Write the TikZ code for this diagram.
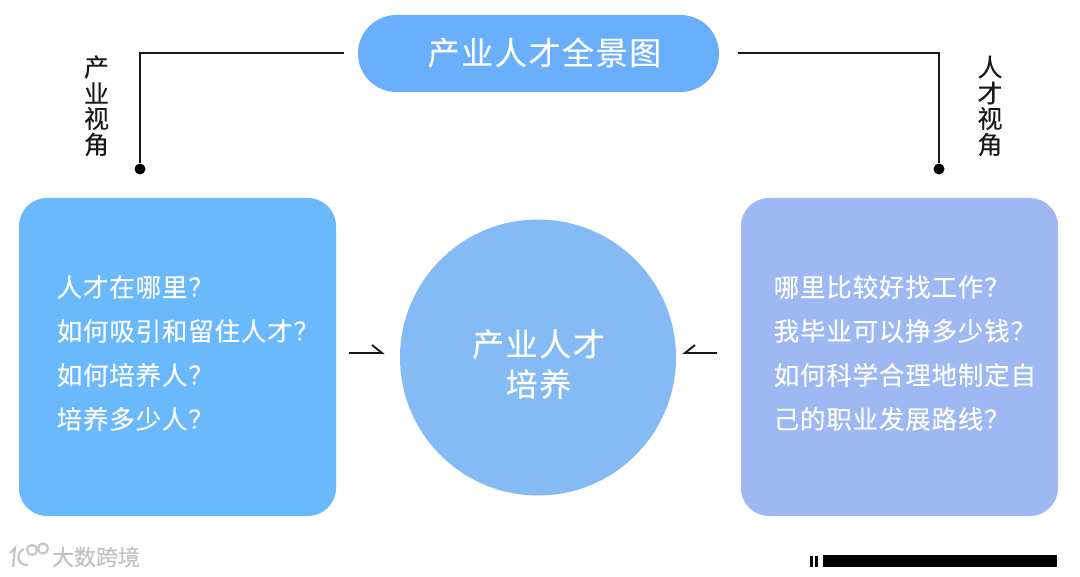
\documentclass[tikz,border=0pt]{standalone}
\usepackage{fontspec}
\newfontfamily\cjk{Noto Sans CJK SC}
\tikzset{
  x=1pt,y=-1pt,
  txt/.style={inner sep=0pt,anchor=west,text=white,font=\cjk\fontsize{25.5}{25.5}\selectfont\addfontfeature{LetterSpace=3.2,FakeBold=0.15}},
  vtxt/.style={inner sep=0pt,text=black!90,font=\cjk\fontsize{25}{25}\selectfont\addfontfeature{FakeBold=0.2}},
  bigtxt/.style={inner sep=0pt,text=white,font=\cjk\fontsize{32}{32}\selectfont\addfontfeature{LetterSpace=5,FakeBold=0.2}},
  conn/.style={draw=black!90,line width=2pt},
  thin conn/.style={draw=black!90,line width=1.9pt},
  wm/.style={inner sep=0pt,text=black!24,font=\cjk\fontsize{22}{22}\selectfont\addfontfeature{FakeBold=0.4}}
}
\definecolor{titleblue}{HTML}{69AFFC}
\definecolor{leftblue}{HTML}{69B9FC}
\definecolor{circblue}{HTML}{85BBF5}
\definecolor{rightblue}{HTML}{9DB8F2}
\begin{document}
\begin{tikzpicture}
\useasboundingbox (0,0) rectangle (1080,577);
\fill[white] (0,0) rectangle (1080,577);
% shapes
\node[draw=none,fill=titleblue,rounded corners=38.5pt,minimum width=361pt,minimum height=77pt,inner sep=0pt] (title) at (538.5,53.5) {};
\node[bigtxt] (titletxt) at (544.5,52.5) {产业人才全景图};
\node[fill=leftblue,rounded corners=28pt,minimum width=317pt,minimum height=318pt,inner sep=0pt] (leftbox) at (177.5,357) {};
\node[fill=rightblue,rounded corners=28pt,minimum width=317pt,minimum height=318pt,inner sep=0pt] (rightbox) at (899.5,357) {};
\node[circle,fill=circblue,minimum size=276pt,inner sep=0pt] (circ) at (538,357.5) {};
% circle text
\node[bigtxt] (c1) at (538.5,344) {产业人才};
\node[bigtxt] (c2) at (538.5,384) {培养};
% left text
\node[txt] (l1) at (56.5,287) {人才在哪里？};
\node[txt] (l2) at (56.5,331) {如何吸引和留住人才？};
\node[txt] (l3) at (56.5,375) {如何培养人？};
\node[txt] (l4) at (56.5,419) {培养多少人？};
% right text
\node[txt] (r1) at (773.5,287) {哪里比较好找工作？};
\node[txt] (r2) at (773.5,331) {我毕业可以挣多少钱？};
\node[txt] (r3) at (773.5,375) {如何科学合理地制定自};
\node[txt] (r4) at (773.5,419) {己的职业发展路线？};
% vertical labels
\node[vtxt] (a1) at (96.5,67) {产};
\node[vtxt] (a2) at (96.5,93) {业};
\node[vtxt] (a3) at (96.5,118.5) {视};
\node[vtxt] (a4) at (96.5,144.5) {角};
\node[vtxt] (b1) at (990,67) {人};
\node[vtxt] (b2) at (990,93) {才};
\node[vtxt] (b3) at (990,118.5) {视};
\node[vtxt] (b4) at (990,144.5) {角};
% connectors
\coordinate (ls) at (344,53);
\coordinate (rs) at (738,53);
\node[circle,fill=black,minimum size=11pt,inner sep=0pt] (ld) at (140,169) {};
\node[circle,fill=black,minimum size=11pt,inner sep=0pt] (rd) at (939,169) {};
\draw[conn] (ls) -| (ld);
\draw[conn] (rs) -| (rd);
% half arrows
\coordinate (la0) at (349,353);
\coordinate (la1) at (382,353);
\coordinate (la2) at (372,345);
\coordinate (ra0) at (717,353);
\coordinate (ra1) at (685,353);
\coordinate (ra2) at (695,345);
\draw[thin conn,line join=miter] (la0) -- (la1) -- (la2);
\draw[thin conn,line join=miter] (ra0) -- (ra1) -- (ra2);
% bottom-right bar
\fill[black] (823,555) rectangle (1056.5,566.5);
\fill[black] (810,555.5) rectangle (812.5,566.5);
\fill[black] (815,555.5) rectangle (818,566.5);
% watermark
\node[wm] (w) at (96,557) {大数跨境};
\begin{scope}[draw=black!22,line width=2.2pt,fill=none]
\draw (10,553) -- (15,548) -- (13,567);
\draw (24,549) .. controls (15,552) and (17,566) .. (28,565);
\draw (32,550) circle[radius=5];
\draw (43,548.5) circle[radius=5];
\end{scope}
\end{tikzpicture}
\end{document}
